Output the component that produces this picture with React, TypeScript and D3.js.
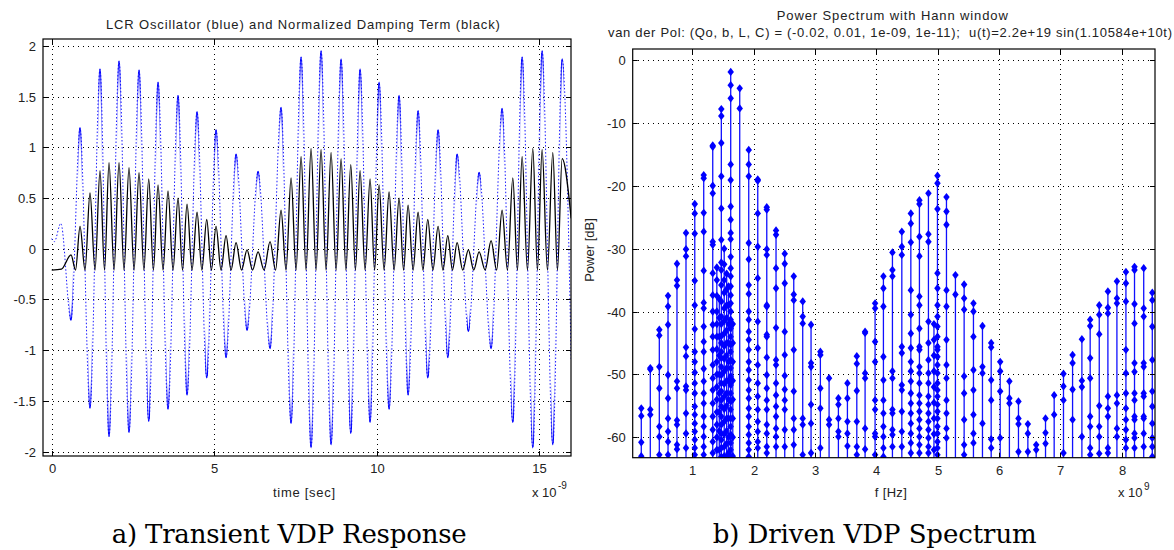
import React from 'react';
import * as d3 from 'd3';

// ---------- Panel a data (time in ns) ----------
const extremaT = [0.594, 0.871, 1.178, 1.486, 1.763, 2.071, 2.378, 2.686, 2.985, 3.271, 3.578, 3.886, 4.163, 4.471, 4.769, 5.055, 5.363, 5.671, 6.009, 6.348, 6.717, 7.055, 7.363, 7.671, 7.978, 8.286, 8.594, 8.902, 9.2, 9.486, 9.794, 10.071, 10.378, 10.686, 10.963, 11.271, 11.569, 11.886, 12.185, 12.471, 12.818, 13.148, 13.517, 13.855, 14.185, 14.471, 14.8, 15.086, 15.415, 15.702];
const blueExtrema = [-0.70, 1.19, -1.57, 1.77, -1.85, 1.85, -1.81, 1.76, -1.70, 1.64, -1.58, 1.51, -1.44, 1.35, -1.27, 1.17, -1.07, 0.93, -0.80, 0.76, -0.98, 1.39, -1.72, 1.89, -1.96, 1.95, -1.93, 1.87, -1.82, 1.77, -1.71, 1.64, -1.58, 1.51, -1.44, 1.36, -1.27, 1.17, -1.07, 0.93, -0.81, 0.75, -0.98, 1.38, -1.71, 1.89, -1.96, 1.95, -1.93, 1.87];
const blackPeaks = [-0.06, 0.22, 0.55, 0.77, 0.85, 0.85, 0.80, 0.75, 0.69, 0.63, 0.57, 0.50, 0.44, 0.36, 0.29, 0.22, 0.13, 0.06, -0.01, -0.03, 0.07, 0.38, 0.70, 0.91, 0.99, 0.98, 0.95, 0.89, 0.83, 0.77, 0.69, 0.63, 0.56, 0.50, 0.43, 0.36, 0.29, 0.22, 0.13, 0.06, -0.01, -0.03, 0.08, 0.38, 0.70, 0.91, 0.99, 0.98, 0.95, 0.89];
const blueStart: [number, number][] = [[0, 0.10], [0.08, 0.07], [0.28, 0.25]];
const blueEnd: [number, number][] = [[15.98, -1.1]];
const blackStart: [number, number][] = [[0, -0.21], [0.3, -0.2]];
const blackEnd: [number, number][] = [[15.98, 0.3]];
const blackFloor = -0.21;

const aXTicks = [0, 5, 10, 15];
const aYTicks = [-2, -1.5, -1, -0.5, 0, 0.5, 1, 1.5, 2];

// ---------- Panel b data (f in GHz, levels in dB) ----------
const stemFreqs = [0.168, 0.315, 0.462, 0.604, 0.75, 0.897, 1.04, 1.186, 1.333, 1.40, 1.44, 1.473, 1.52, 1.56, 1.59, 1.626, 1.66, 1.773, 1.92, 2.067, 2.214, 2.365, 2.507, 2.654, 2.8, 2.936, 3.088, 3.23, 3.382, 3.529, 3.682, 3.817, 3.98, 4.116, 4.263, 4.416, 4.563, 4.703, 4.85, 4.94, 4.997, 5.144, 5.29, 5.432, 5.584, 5.731, 5.873, 6.02, 6.17, 6.318, 6.471, 6.607, 6.759, 6.9, 7.052, 7.2, 7.352, 7.487, 7.635, 7.776, 7.923, 8.07, 8.21, 8.36, 8.5];
const stemLevels: number[][] = [
  [-55.4, -56.6, -60.8, -63],
  [-49.0, -49.2, -55.6, -56.4],
  [-42.9, -43.8, -48.8, -52.2, -58.3, -59.9, -62.8],
  [-37.5, -39.2, -42.1, -50.1, -53.8, -57.0, -59.1, -60.7, -62.8],
  [-32.4, -35.0, -35.9, -51.1, -52.2, -57.3, -58.0, -61.2, -61.9],
  [-27.5, -30.1, -31.2, -45.7, -47.1, -51.9, -52.5, -56.2, -59.4, -61.7],
  [-22.9, -24.4, -27.6, -35.1, -39.0, -42.8, -46.4, -48.0, -49.7, -51.4, -53.0, -55.1, -56.4, -57.8, -59.1, -60.4, -61.7, -62.8],
  [-18.3, -18.8, -24.3, -27.3, -33.5, -38.6, -39.5, -42.4, -44.8, -46.4, -49.1, -51.1, -53.0, -54.6, -56.7, -58.3, -59.9, -61.5, -62.8],
  [-13.6, -13.8, -20.0, -21.2, -28.9, -29.4, -33.9, -37.4, -40.0, -42.1, -44.0, -46.1, -48.5, -50.6, -52.5, -54.6, -56.7, -58.8, -60.7, -62.5],
  [-33, -35, -37.5, -40, -42, -44, -46, -48, -50, -52, -54, -56, -58, -60, -62],
  [-38, -41, -44, -47, -50, -53, -56, -59, -62],
  [-7.8, -8.9, -13.2, -18.5, -23.6, -28.6, -32.2, -33.4, -35.8, -38.4, -40.8, -42.0, -43.9, -45.0, -46.4, -47.4, -48.8, -50.1, -51.4, -52.7, -54.1, -55.1, -56.7, -58.0, -59.4, -60.4, -61.7, -63.1],
  [-30, -32.5, -35, -37, -39.5, -41.5, -43.5, -45.5, -47.5, -49.5, -51.5, -53.5, -55.5, -57.5, -59.5, -61.5, -63],
  [-34, -36.5, -39, -41, -43, -45, -47, -49, -51, -53, -55, -57, -59, -61, -63],
  [-36, -39, -42, -45, -48, -51, -54, -57, -60, -62.5],
  [-1.9, -4.0, -6.1, -16.6, -19.1, -23.3, -25.4, -27.5, -28.5, -31.3, -33.1, -34.4, -36.0, -37.4, -38.7, -40.0, -41.3, -42.7, -44.0, -45.3, -46.4, -47.7, -49.0, -50.3, -51.7, -53.0, -54.3, -55.6, -57.0, -58.3, -59.6, -60.9, -62.0, -63.1],
  [-42, -45, -48, -51, -54, -57, -60, -63],
  [-4.5, -7.7],
  [-14.3, -16.6, -18.5, -29.1, -31.7, -35.8, -37.2, -40.0, -41.3, -43.2, -44.5, -46.1, -48.0, -49.3, -50.9, -52.5, -53.8, -55.4, -56.7, -58.3, -59.6, -60.9, -62.0, -63.1],
  [-19.0, -19.2, -24.4, -29.7, -34.7, -41.6, -45.8, -48.5, -51.4, -53.5, -55.6, -57.5, -59.1, -60.7, -61.7],
  [-23.4, -23.8, -30.1, -31.0, -39.0, -39.2, -43.7, -44.0, -47.3, -50.1, -52.2, -54.1, -55.6, -58.0, -59.4, -61.5, -62.5],
  [-27.1, -27.8, -33.1, -36.3, -42.6, -47.7, -48.5, -51.4, -53.3, -55.1, -56.7, -58.6, -59.9, -61.5],
  [-30.8, -32.4, -35.5, -43.2, -46.9, -50.2, -52.4, -54.1, -55.6, -58.8, -61.5],
  [-34.4, -37.3, -38.2, -46.1, -52.7, -57.0, -58.8, -61.2],
  [-38.4, -40.8, -41.9, -57.0, -58.0, -62.8],
  [-42.1, -48.2, -48.8, -54.8, -57.8, -62.5],
  [-46.4, -46.9, -52.2, -55.4, -61.7],
  [-50.6, -57.2, -58.0],
  [-53.8, -54.8, -57.0, -59.1, -59.9],
  [-51.4, -53.8, -57.5, -59.4, -61.4],
  [-47.1, -48.3, -52.6, -57.5, -61.5, -62.8],
  [-43.2, -43.4, -49.8, -50.6, -58.6, -61.9],
  [-38.7, -39.5, -44.8, -48.0, -54.1, -55.6, -59.4, -59.9, -62.8],
  [-34.4, -36.3, -39.2, -47.2, -50.9, -54.1, -56.2, -58.3, -59.9, -61.7, -63.1],
  [-30.6, -33.4, -34.4, -49.5, -50.6, -55.6, -56.2, -58.8, -59.6, -61.5],
  [-27.3, -29.7, -31.0, -45.6, -46.6, -51.7, -52.5, -55.9, -59.1, -61.5],
  [-24.4, -26.0, -29.0, -36.6, -40.5, -43.5, -45.8, -48.0, -49.5, -51.1, -53.0, -54.6, -56.2, -57.8, -59.4, -60.9, -62.5],
  [-22.3, -22.9, -28.1, -31.2, -37.6, -39.0, -42.7, -45.6, -46.1, -48.8, -49.8, -51.4, -53.3, -54.6, -55.9, -57.2, -58.6, -59.9, -61.2, -62.5],
  [-21.2, -27.7, -28.9, -41.6, -45.0, -47.7, -49.8, -51.4, -53.5, -54.8, -56.2, -57.5, -58.8, -60.1, -61.5, -62.5],
  [-42, -44.5, -47, -49.5, -52, -54.5, -57, -59.5, -62],
  [-18.4, -19.6, -23.7, -33.9, -36.3, -39.0, -40.8, -42.4, -44.0, -45.6, -46.1, -47.2, -48.5, -49.8, -51.4, -52.5, -53.5, -54.8, -55.9, -57.0, -58.3, -59.4, -60.7, -61.7, -62.8],
  [-21.8, -24.1, -26.2, -36.6, -39.2, -44.5, -48.5, -50.6, -54.1, -56.2, -58.6, -60.1],
  [-34.2, -37.3],
  [-35.7, -37.9, -39.7, -50.3, -53.0, -57.2, -61.2, -62.8],
  [-38.7, -40.0, -44.0, -49.3, -52.5, -56.4, -59.4, -60.9],
  [-42.3, -48.8, -49.8, -57.8],
  [-45.0, -45.7, -50.9, -54.1, -60.3, -61.7],
  [-48.0, -49.5, -52.7, -60.1],
  [-51.1, -53.8, -54.6],
  [-54.3, -57.0, -57.9, -62.3],
  [-57.9, -59.4, -62.3],
  [-61.2, -62.0],
  [-57.0, -59.3, -61.0],
  [-53.3, -56.4],
  [-49.9, -51.9, -54.1, -62.5],
  [-46.9, -48.2, -52.4, -57.2],
  [-44.4, -51.0, -52.0, -59.9],
  [-41.3, -42.3, -47.4, -50.6, -56.7, -58.3, -61.7, -62.8],
  [-39.0, -40.5, -43.6, -55.0, -58.3, -59.9, -62.6],
  [-36.8, -39.4, -40.3, -53.5, -55.4, -56.7, -61.7, -62.5],
  [-35.2, -37.9, -38.7, -53.3, -54.6, -58.6, -59.9],
  [-33.7, -35.5, -38.4, -46.1, -49.8, -53.0, -55.4, -57.2, -58.8, -60.4, -61.7],
  [-32.9, -33.4, -38.8, -41.9, -48.2, -49.6, -53.0, -54.1, -56.7, -57.2, -59.4, -60.1, -61.7],
  [-33.1, -39.5, -40.8, -48.2, -48.8, -53.0, -53.5, -56.7, -57.0, -59.4, -61.5],
  [-37.0, -38.2, -42.4, -47.7, -52.7, -55.1, -57.8, -60.1, -61.5, -63.1],
];
const bXTicks = [1, 2, 3, 4, 5, 6, 7, 8];
const bYTicks = [0, -10, -20, -30, -40, -50, -60];

const SANS = '"Liberation Sans", Arimo, Arial, sans-serif';
const SERIF = '"DejaVu Serif", serif';

function Grid({ x, y, xTicks, yTicks }: any) {
  const [x0, x1] = x.range();
  const [y0, y1] = y.range();
  return (
    <g>
      {xTicks.map((t: number) => (
        <line key={'gx' + t} x1={Math.round(x(t)) + 0.5} x2={Math.round(x(t)) + 0.5} y1={y1} y2={y0}
          stroke="#000" strokeWidth={1} strokeDasharray="1,4" shapeRendering="crispEdges" />
      ))}
      {yTicks.map((t: number) => (
        <line key={'gy' + t} y1={Math.round(y(t)) + 0.5} y2={Math.round(y(t)) + 0.5} x1={x0} x2={x1}
          stroke="#000" strokeWidth={1} strokeDasharray="1,4" shapeRendering="crispEdges" />
      ))}
    </g>
  );
}

function Axes({ x, y, xTicks, yTicks, fmt }: any) {
  const [x0, x1] = x.range();
  const [y0, y1] = y.range();
  const TL = 5;
  return (
    <g fontFamily={SANS} fontSize={13} fill="#222">
      <rect x={x0} y={y1} width={x1 - x0} height={y0 - y1} fill="none" stroke="#000" strokeWidth={1.2} />
      {xTicks.map((t: number) => {
        const px = Math.round(x(t)) + 0.5;
        return (
          <g key={'tx' + t}>
            <line x1={px} x2={px} y1={y0} y2={y0 - TL} stroke="#000" />
            <line x1={px} x2={px} y1={y1} y2={y1 + TL} stroke="#000" />
            <text x={px} y={y0 + 17} textAnchor="middle">{fmt(t)}</text>
          </g>
        );
      })}
      {yTicks.map((t: number) => {
        const py = Math.round(y(t)) + 0.5;
        return (
          <g key={'ty' + t}>
            <line x1={x0} x2={x0 + TL} y1={py} y2={py} stroke="#000" />
            <line x1={x1} x2={x1 - TL} y1={py} y2={py} stroke="#000" />
            <text x={x0 - 7} y={py + 4.5} textAnchor="end">{fmt(t)}</text>
          </g>
        );
      })}
    </g>
  );
}

export default function App() {
  const xa = d3.scaleLinear().domain([-0.268, 15.975]).range([43, 571]);
  const ya = d3.scaleLinear().domain([-2.044, 2.069]).range([456, 39]);
  const xb = d3.scaleLinear().domain([0.028, 8.544]).range([632.7, 1155]);
  const yb = d3.scaleLinear().domain([-63.25, 1.75]).range([457.7, 49]);

  const bluePts: [number, number][] = [
    ...blueStart,
    ...extremaT.map((t, i) => [t, blueExtrema[i]] as [number, number]),
    ...blueEnd,
  ];
  const blackPts: [number, number][] = [...blackStart];
  extremaT.forEach((t, i) => {
    blackPts.push([t, blackPeaks[i]]);
    if (i < extremaT.length - 1) blackPts.push([(t + extremaT[i + 1]) / 2, blackFloor]);
  });
  blackPts.push(...blackEnd);

  const lineA = d3.line<[number, number]>().x(d => xa(d[0])).y(d => ya(d[1])).curve(d3.curveMonotoneX);
  const bluePath = lineA(bluePts) || '';
  const blackPath = lineA(blackPts) || '';

  const marker = d3.symbol().type(d3.symbolDiamond).size(20)() || '';
  const fmt = (v: number) => String(v);

  return (
    <div style={{ position: 'absolute', left: 0, top: 0 }}>
      <svg width={1174} height={550} viewBox="0 0 1174 550" style={{ display: 'block', background: '#fff' }}>
        <defs>
          <clipPath id="clipA"><rect x={43} y={39} width={528} height={417} /></clipPath>
          <clipPath id="clipTips">
            {extremaT.map((t, i) => (
              <rect key={i} x={xa(t) - 1.4} y={39} width={2.8} height={417} />
            ))}
          </clipPath>
          <clipPath id="clipB"><rect x={632.7} y={49} width={522.3} height={408.7} /></clipPath>
        </defs>

        {/* ---------- Panel a ---------- */}
        <Grid x={xa} y={ya} xTicks={aXTicks} yTicks={aYTicks} />
        <g clipPath="url(#clipA)">
          <path d={bluePath} fill="none" stroke="#1a1aff" strokeWidth={1} strokeDasharray="1.5,2" />
          <g clipPath="url(#clipTips)">
            <path d={bluePath} fill="none" stroke="#0000ff" strokeWidth={2} />
          </g>
          <path d={blackPath} fill="none" stroke="#000" strokeWidth={1.3} />
        </g>
        <Axes x={xa} y={ya} xTicks={aXTicks} yTicks={aYTicks} fmt={fmt} />
        <g fontFamily={SANS} fontSize={13} fill="#222">
          <text x={302.9} y={29} textAnchor="middle" textLength={394} lengthAdjust="spacing">
            LCR Oscillator (blue) and Normalized Damping Term (black)
          </text>
          <text x={304} y={497} textAnchor="middle" textLength={62} lengthAdjust="spacing">time [sec]</text>
          <text x={532} y={497}>x 10</text>
          <text x={558} y={489} fontSize={10}>-9</text>
        </g>

        {/* ---------- Panel b ---------- */}
        <Grid x={xb} y={yb} xTicks={bXTicks} yTicks={bYTicks} />
        <g clipPath="url(#clipB)">
          {stemFreqs.map((f, i) => {
            const top = d3.max(stemLevels[i]) as number;
            const px = xb(f);
            return (
              <g key={'s' + i}>
                <line x1={px} x2={px} y1={yb(-63.25)} y2={yb(top)} stroke="#1010ff" strokeWidth={1.3} />
                {stemLevels[i].map((v, j) => (
                  <path key={j} d={marker} transform={`translate(${px},${yb(v)}) scale(1.35,1)`} fill="#0000ff" />
                ))}
              </g>
            );
          })}
        </g>
        <Axes x={xb} y={yb} xTicks={bXTicks} yTicks={bYTicks} fmt={fmt} />
        <g fontFamily={SANS} fontSize={13} fill="#222">
          <text x={892.3} y={20} textAnchor="middle" textLength={231} lengthAdjust="spacing">
            Power Spectrum with Hann window
          </text>
          <text x={890} y={37} textAnchor="middle" textLength={564} lengthAdjust="spacing" style={{ whiteSpace: 'pre' }}>
            {'van der Pol: (Qo, b, L, C) = (-0.02, 0.01, 1e-09, 1e-11);  u(t)=2.2e+19 sin(1.10584e+10t)'}
          </text>
          <text x={890.8} y={497} textAnchor="middle" textLength={32} lengthAdjust="spacing">f [Hz]</text>
          <text x={1118} y={497}>x 10</text>
          <text x={1144} y={490} fontSize={10}>9</text>
          <text transform="translate(594,250) rotate(-90)" textAnchor="middle">Power [dB]</text>
        </g>

        {/* ---------- Captions ---------- */}
        <g fontFamily={SERIF} fontSize={26} fill="#000">
          <text x={289.2} y={543} textAnchor="middle" textLength={355} lengthAdjust="spacing">a) Transient VDP Response</text>
          <text x={874.7} y={543} textAnchor="middle" textLength={324} lengthAdjust="spacing">b) Driven VDP Spectrum</text>
        </g>
      </svg>
    </div>
  );
}
